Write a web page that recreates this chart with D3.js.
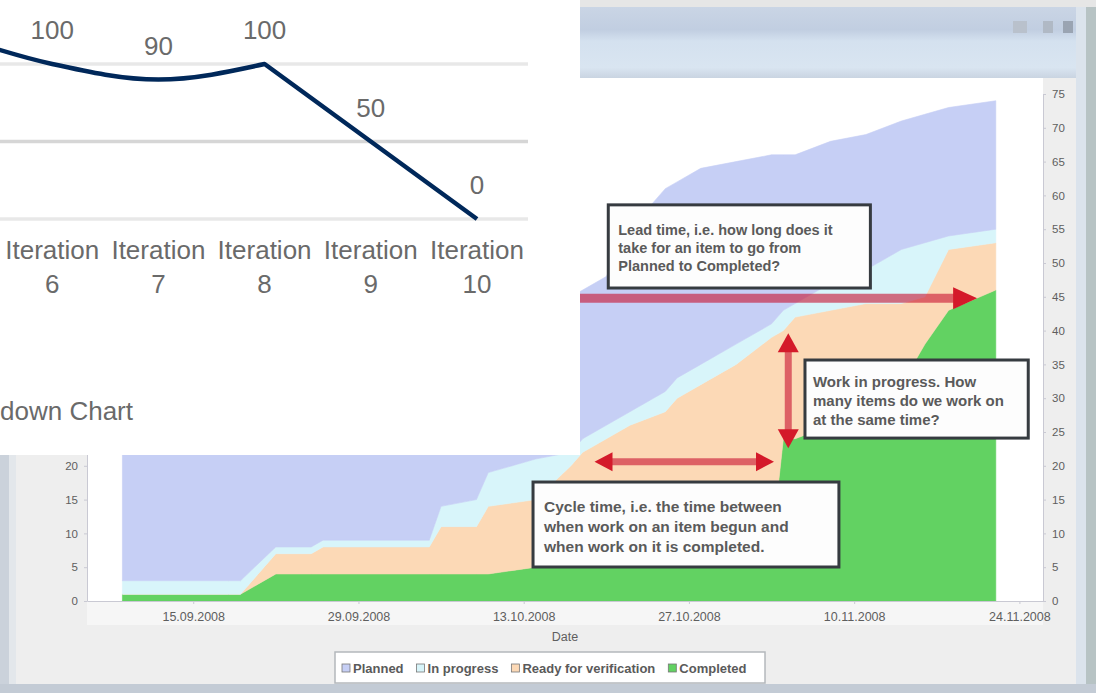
<!DOCTYPE html>
<html><head><meta charset="utf-8">
<script src="https://cdn.jsdelivr.net/npm/d3@7"></script>
<style>html,body{margin:0;padding:0;background:#ececec;overflow:hidden}svg{display:block}</style>
</head><body>
<svg id="c" width="1096" height="693"></svg>
<script>
// ---------- Cumulative flow diagram data ----------
const cfdDates = ["2008-09-09","2008-09-18","2008-09-19","2008-09-22","2008-09-25","2008-09-26","2008-10-05","2008-10-06","2008-10-09","2008-10-10","2008-10-14","2008-10-17","2008-10-18","2008-10-20","2008-10-22","2008-10-25","2008-10-26","2008-10-28","2008-10-31","2008-11-03","2008-11-04","2008-11-05","2008-11-08","2008-11-11","2008-11-14","2008-11-16","2008-11-18","2008-11-22"];
const completed            = [1,1,1,4,4,4,4,4,4,4,5,5,5,5,5,6,6,6,7,8,24,24,26,28,32,38,43,46];
const readyForVerification = [0,0,0,3,3,4,4,7,7,10,10,15,17,19,21,22,24,26,28,31,16,18,17,16,12,7,9,7];
const inProgress           = [2,2,2,1,1,1,1,3,4,5,6,2,2,2,2,3,3,3,3,2,3,2,4,5,8,8,2,2];
const planned              = [20,21,22,19,21,22,28,24,25,22,22,23,22,22,27,30,29,29,27,25,23,22,21,20,19,19,19,19];
const cfdTickDates = ["2008-09-15","2008-09-29","2008-10-13","2008-10-27","2008-11-10","2008-11-24"];
const cfdValueTicks = [0,5,10,15,20,25,30,35,40,45,50,55,60,65,70,75];
const cfdDomain = ["2008-09-06","2008-11-26"];
const legendLabels = ["Planned","In progress","Ready for verification","Completed"];
const axisTitle = "Date";

// annotations (in data units)
const leadTime = {start:"2008-10-16T00:00", end:"2008-11-20T10:00", value:44.8};
const cycleTime = {start:"2008-10-19T00:00", end:"2008-11-03T05:00", value:20.6};
const wipSpan = {date:"2008-11-04T10:00", low:22.6, high:39.6};
const noteTexts = [
  ["Lead time, i.e. how long does it","take for an item to go from","Planned to Completed?"],
  ["Work in progress. How","many items do we work on","at the same time?"],
  ["Cycle time, i.e. the time between","when work on an item begun and","when work on it is completed."]
];
const noteSpans = [
  {x0:"2008-10-20T04:00", x1:"2008-11-11T09:00", top:58.6, bottom:46.3},
  {x0:"2008-11-05T20:00", x1:"2008-11-24T18:00", top:35.65, bottom:24.1},
  {x0:"2008-10-13T19:00", x1:"2008-11-08T17:00", top:17.6, bottom:5.03}
];

// ---------- Burndown chart data ----------
const burnCategories = ["Iteration 5","Iteration 6","Iteration 7","Iteration 8","Iteration 9","Iteration 10"];
const burnRemaining = [120,100,90,100,50,0];
const burnGridValues = [0,50,100];
const burnTitle = "Burndown Chart";

// ---------------------------------------------------
const W=1096,H=693;
const svg=d3.select("#c");
const pDay=d3.timeParse("%Y-%m-%d"), pTime=d3.timeParse("%Y-%m-%dT%H:%M");
const pd=s=>s.length===10?pDay(s):pTime(s);
const FONT="'Liberation Sans', Arial, sans-serif";
const colors={planned:"#c6cff5", ip:"#d8f5fa", rfv:"#fcd9b6", completed:"#62d262"};

const defs=svg.append("defs");
const tb=defs.append("linearGradient").attr("id","tb").attr("x1",0).attr("x2",0).attr("y1",0).attr("y2",1);
[[0,"#cad5e5"],[0.32,"#c1cee1"],[0.48,"#d4e1ef"],[0.85,"#d9e5f1"],[1,"#c9d4e1"]].forEach(s=>tb.append("stop").attr("offset",s[0]).attr("stop-color",s[1]));

// window chrome
svg.append("rect").attr("width",W).attr("height",H).attr("fill","#e6e6e6");
svg.append("rect").attr("x",0).attr("y",7).attr("width",1083).attr("height",71).attr("fill","url(#tb)");
svg.append("rect").attr("x",0).attr("y",78).attr("width",1083).attr("height",607).attr("fill","#eeeeee");
svg.append("rect").attr("x",0).attr("y",0).attr("width",9).attr("height",H).attr("fill","#cbd2db");
svg.append("rect").attr("x",9).attr("y",78).attr("width",7).attr("height",607).attr("fill","#e3e7eb");
svg.append("rect").attr("x",1076).attr("y",7).attr("width",20).attr("height",H).attr("fill","#dbe3ec");
svg.append("rect").attr("x",1086).attr("y",7).attr("width",10).attr("height",H).attr("fill","#b7c3c4");
svg.append("rect").attr("x",0).attr("y",684).attr("width",W).attr("height",9).attr("fill","#c3cbd5");
[[1013,14,"#b9c1cc"],[1043,10,"#b0b9c5"],[1063,10,"#9aa4b2"]].forEach(b=>{
  svg.append("rect").attr("x",b[0]).attr("y",21).attr("width",b[1]).attr("height",12).attr("fill",b[2]);
});

const plot={l:87,r:1043,t:78,b:601};
svg.append("rect").attr("x",plot.l).attr("y",plot.t).attr("width",plot.r-plot.l).attr("height",plot.b-plot.t).attr("fill","#ffffff");
svg.append("rect").attr("x",plot.l).attr("y",plot.b).attr("width",plot.r-plot.l).attr("height",24).attr("fill","#f6f6f6");

const x=d3.scaleTime().domain(cfdDomain.map(pd)).range([plot.l,plot.r]);
const y=d3.scaleLinear().domain([0,75]).range([601,94]);

const rows=cfdDates.map((d,i)=>({date:pd(d),completed:completed[i],rfv:readyForVerification[i],ip:inProgress[i],planned:planned[i]}));
const series=d3.stack().keys(["completed","rfv","ip","planned"])(rows);
const area=d3.area().x(d=>x(d.data.date)).y0(d=>y(d[0])).y1(d=>y(d[1]));
svg.append("g").selectAll("path").data(series).join("path")
  .attr("d",area).attr("fill",d=>colors[d.key]).attr("stroke",d=>colors[d.key]).attr("stroke-width",0.6);

// axes
function styleAxis(g){
  g.select(".domain").attr("stroke","#c9c9d3");
  g.selectAll(".tick line").attr("stroke","#c9c9d3");
  g.selectAll("text").attr("fill","#5e5e5e").attr("font-family",FONT).attr("font-size",11.5);
}
// left-axis labels that would sit under the pasted burndown picture are not shown
const overlayBottom=455;
svg.append("g").attr("transform",`translate(${plot.l},0)`)
  .call(d3.axisLeft(y).tickValues(cfdValueTicks.filter(v=>y(v)>overlayBottom+8)).tickSize(3).tickPadding(6).tickSizeOuter(0)).call(styleAxis);
svg.append("g").attr("transform",`translate(${plot.r},0)`)
  .call(d3.axisRight(y).tickValues(cfdValueTicks).tickSize(3).tickPadding(6).tickSizeOuter(0)).call(styleAxis);
svg.append("g").attr("transform",`translate(0,${plot.b})`)
  .call(d3.axisBottom(x).tickValues(cfdTickDates.map(pd)).tickFormat(d3.timeFormat("%d.%m.%Y")).tickSize(3).tickPadding(8).tickSizeOuter(0))
  .call(styleAxis).call(g=>g.selectAll("text").attr("font-size",12.5));
svg.append("text").attr("x",(plot.l+plot.r)/2).attr("y",641).attr("text-anchor","middle")
  .attr("font-family",FONT).attr("font-size",12.5).attr("fill","#5e5e5e").text(axisTitle);

// arrows
const RED="#c8102e";
function head(g,tx,ty,dx,dy,len,wid){
  const px=-dy,py=dx;
  const bx=tx-dx*len,by=ty-dy*len;
  g.append("path").attr("d",`M${tx},${ty}L${bx+px*wid/2},${by+py*wid/2}L${bx-px*wid/2},${by-py*wid/2}Z`).attr("fill","#d41a2a");
}
function arrow(x1,y1,x2,y2,w,heads,len,wid){
  const g=svg.append("g");
  const L=Math.hypot(x2-x1,y2-y1),dx=(x2-x1)/L,dy=(y2-y1)/L;
  const s=heads.start?len*0.7:0,e=heads.end?len*0.7:0;
  g.append("line").attr("x1",x1+dx*s).attr("y1",y1+dy*s).attr("x2",x2-dx*e).attr("y2",y2-dy*e)
    .attr("stroke",RED).attr("stroke-opacity",0.6).attr("stroke-width",w);
  if(heads.end) head(g,x2,y2,dx,dy,len,wid);
  if(heads.start) head(g,x1,y1,-dx,-dy,len,wid);
}
arrow(x(pd(leadTime.start)),y(leadTime.value),x(pd(leadTime.end)),y(leadTime.value),9,{end:true},24,22);
arrow(x(pd(cycleTime.start)),y(cycleTime.value),x(pd(cycleTime.end)),y(cycleTime.value),7,{start:true,end:true},18,19);
arrow(x(pd(wipSpan.date)),y(wipSpan.low),x(pd(wipSpan.date)),y(wipSpan.high),7,{start:true,end:true},19,21);

// note boxes
const noteStyle=[{pad:10,first:30,step:18,size:14.5},{pad:8,first:27,step:19,size:15},{pad:11,first:30,step:20,size:15.5}];
noteSpans.forEach((b,i)=>{
  const x0=x(pd(b.x0)),x1=x(pd(b.x1)),y0=y(b.top),y1=y(b.bottom);
  svg.append("rect").attr("x",x0).attr("y",y0).attr("width",x1-x0).attr("height",y1-y0)
    .attr("fill","#fdfdfd").attr("stroke","#363b40").attr("stroke-width",3);
  const st=noteStyle[i];
  noteTexts[i].forEach((t,j)=>{
    svg.append("text").attr("x",x0+st.pad).attr("y",y0+st.first+j*st.step)
      .attr("font-family",FONT).attr("font-size",st.size).attr("font-weight","bold").attr("fill","#5a5a5a").text(t);
  });
});

// legend
const lg=svg.append("g");
lg.append("rect").attr("x",335).attr("y",652).attr("width",430).attr("height",31)
  .attr("fill","#ffffff").attr("stroke","#b4b8bc").attr("stroke-width",1.5);
const legendColors=[colors.planned,colors.ip,colors.rfv,colors.completed];
let cx=342;
legendLabels.forEach((lab,i)=>{
  lg.append("rect").attr("x",cx).attr("y",664).attr("width",8).attr("height",8).attr("fill",legendColors[i]).attr("stroke","#777").attr("stroke-width",0.8);
  const t=lg.append("text").attr("x",cx+11).attr("y",673).attr("font-family",FONT).attr("font-size",13).attr("font-weight","bold").attr("fill","#5a5a5a").text(lab);
  cx+=11+t.node().getComputedTextLength()+13;
});

// ---------- Burndown overlay (cropped picture pasted on top) ----------
const ovW=580, ovH=455;
defs.append("clipPath").attr("id","ov").append("rect").attr("x",0).attr("y",0).attr("width",ovW).attr("height",ovH);
const ov=svg.append("g").attr("clip-path","url(#ov)");
ov.append("rect").attr("x",0).attr("y",0).attr("width",ovW).attr("height",ovH).attr("fill","#ffffff");
const bx=d3.scalePoint().domain(burnCategories).range([-54,477]);
const by=d3.scaleLinear().domain([0,100]).range([219,64]);
ov.append("g").selectAll("line").data(burnGridValues).join("line")
  .attr("x1",0).attr("x2",528).attr("y1",d=>by(d)).attr("y2",d=>by(d))
  .attr("stroke",d=>d===50?"#d6d6d6":"#e8e8e8").attr("stroke-width",3.5);
const pts=burnRemaining.map((v,i)=>[bx(burnCategories[i]),by(v)]);
const peak=3; // smoothed up to iteration 8, straight afterwards
ov.append("path").attr("d",d3.line().curve(d3.curveMonotoneX)(pts.slice(0,peak+1))+d3.line()(pts.slice(peak)).replace("M","L"))
  .attr("fill","none").attr("stroke","#00285a").attr("stroke-width",4.5).attr("stroke-linejoin","round");
// only labels whose position falls inside the visible crop are drawn
const visIdx=burnCategories.map((c,i)=>i).filter(i=>bx(burnCategories[i])>0);
ov.append("g").selectAll("text").data(visIdx).join("text")
  .attr("x",i=>bx(burnCategories[i])).attr("y",i=>by(burnRemaining[i])-25).attr("text-anchor","middle")
  .attr("font-family",FONT).attr("font-size",26).attr("fill","#6a6a6a").text(i=>burnRemaining[i]);
const xl=ov.append("g").selectAll("text").data(visIdx.map(i=>burnCategories[i])).join("text")
  .attr("text-anchor","middle").attr("font-family",FONT).attr("font-size",26).attr("fill","#6a6a6a");
xl.append("tspan").attr("x",d=>bx(d)).attr("y",259).text(d=>d.split(" ")[0]);
xl.append("tspan").attr("x",d=>bx(d)).attr("y",293).text(d=>d.split(" ")[1]);
ov.append("text").attr("x",133).attr("y",420).attr("text-anchor","end")
  .attr("font-family",FONT).attr("font-size",26).attr("fill","#6a6a6a").text(burnTitle);
</script>
</body></html>
